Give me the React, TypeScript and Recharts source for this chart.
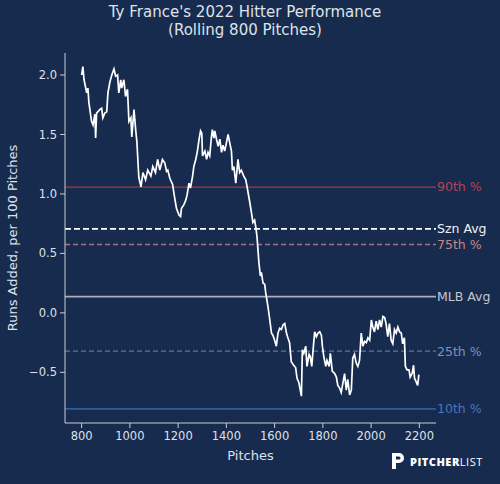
import { Line, LineChart, ReferenceLine, XAxis, YAxis } from 'recharts'

const PITCHES = [
  800, 805, 810, 821, 826, 830, 841, 847, 855, 858, 862, 876, 883, 888, 896, 904,
  909, 917, 925, 934, 941, 949, 954, 962, 966, 975, 982, 990, 996, 1004, 1008, 1017,
  1024, 1029, 1033, 1037, 1046, 1054, 1065, 1074, 1087, 1095, 1106, 1115, 1124, 1135,
  1145, 1152, 1157, 1166, 1177, 1187, 1193, 1204, 1210, 1214, 1224, 1232, 1237, 1245,
  1251, 1260, 1265, 1273, 1279, 1287, 1293, 1298, 1301, 1311, 1318, 1324, 1331, 1338,
  1342, 1348, 1352, 1359, 1366, 1373, 1380, 1386, 1393, 1400, 1407, 1414, 1421, 1425,
  1431, 1439, 1448, 1455, 1462, 1472, 1480, 1486, 1490, 1497, 1504, 1510, 1517, 1522,
  1527, 1531, 1535, 1541, 1545, 1552, 1559, 1563, 1568, 1574, 1580, 1587, 1593, 1600,
  1607, 1614, 1621, 1628, 1635, 1642, 1649, 1655, 1662, 1669, 1679, 1687, 1693, 1701,
  1711, 1715, 1721, 1729, 1734, 1743, 1748, 1754, 1762, 1766, 1773, 1780, 1787, 1794,
  1798, 1804, 1812, 1817, 1826, 1831, 1839, 1849, 1856, 1862, 1869, 1876, 1883, 1890,
  1897, 1903, 1911, 1918, 1924, 1931, 1938, 1945, 1952, 1959, 1966, 1973, 1980, 1987,
  1994, 2001, 2007, 2014, 2021, 2028, 2035, 2042, 2049, 2056, 2062, 2069, 2076, 2083,
  2090, 2097, 2104, 2111, 2118, 2125, 2131, 2138, 2142, 2149, 2157, 2162, 2170, 2176,
  2180, 2187, 2193, 2198
]

const RUNS_ADDED = [
  2.0, 2.07, 1.96, 1.85, 1.89, 1.77, 1.61, 1.58, 1.67, 1.47, 1.68, 1.71, 1.72, 1.64, 1.68, 1.69,
  1.85, 1.94, 2.0, 2.05, 1.99, 2.0, 1.85, 1.96, 1.89, 1.96, 1.82, 1.88, 1.61, 1.64, 1.48, 1.71,
  1.54, 1.44, 1.29, 1.14, 1.06, 1.18, 1.12, 1.2, 1.15, 1.23, 1.18, 1.29, 1.2, 1.29,
  1.26, 1.19, 1.2, 1.13, 1.08, 0.95, 0.88, 0.82, 0.81, 0.88, 0.91, 0.95, 0.99, 1.09,
  1.05, 1.15, 1.23, 1.29, 1.35, 1.46, 1.53, 1.51, 1.32, 1.36, 1.29, 1.35, 1.32, 1.48,
  1.54, 1.47, 1.53, 1.46, 1.4, 1.46, 1.35, 1.41, 1.36, 1.43, 1.5, 1.43, 1.36, 1.2,
  1.23, 1.09, 1.29, 1.18, 1.2, 1.15, 1.12, 1.06, 1.01, 0.93, 0.84, 0.76, 0.78, 0.72,
  0.64, 0.53, 0.42, 0.31, 0.34, 0.25, 0.24, 0.17, 0.11, 0.03, -0.06, -0.17, -0.19, -0.23,
  -0.28, -0.17, -0.13, -0.14, -0.1, -0.09, -0.17, -0.21, -0.25, -0.41, -0.44, -0.46, -0.55, -0.59,
  -0.7, -0.31, -0.34, -0.28, -0.45, -0.35, -0.37, -0.45, -0.25, -0.16, -0.2, -0.17, -0.16, -0.19,
  -0.28, -0.37, -0.45, -0.4, -0.45, -0.34, -0.49, -0.51, -0.54, -0.61, -0.63, -0.67, -0.59, -0.51,
  -0.65, -0.56, -0.69, -0.65, -0.38, -0.35, -0.42, -0.45, -0.4, -0.17, -0.28, -0.24, -0.25, -0.21,
  -0.23, -0.06, -0.12, -0.16, -0.07, -0.14, -0.06, -0.12, -0.03, -0.04, -0.09, -0.2, -0.09, -0.23,
  -0.26, -0.14, -0.17, -0.12, -0.16, -0.17, -0.26, -0.21, -0.45, -0.48, -0.48, -0.54, -0.51, -0.44,
  -0.55, -0.58, -0.61, -0.52
]

const X_TICKS = [800, 1000, 1200, 1400, 1600, 1800, 2000, 2200]
const Y_TICKS = [-0.5, 0, 0.5, 1, 1.5, 2]

const LEVEL_NAMES = ['90th %', 'Szn Avg', '75th %', 'MLB Avg', '25th %', '10th %']
const LEVEL_VALUES = [1.058, 0.707, 0.575, 0.137, -0.322, -0.808]

const LEVEL_STYLES = [
  { stroke: '#a33a4c', label: '#b8424f', dash: undefined, width: 1.3 },
  { stroke: '#ffffff', label: '#f2f2f2', dash: '6 3', width: 1.8 },
  { stroke: '#a8707a', label: '#c98585', dash: '5 3', width: 1.3 },
  { stroke: '#a9aebb', label: '#c4c7cf', dash: undefined, width: 1.8 },
  { stroke: '#63779c', label: '#7d92b6', dash: '5 3', width: 1.3 },
  { stroke: '#2f5d9c', label: '#4877b8', dash: undefined, width: 1.8 }
]

const BG = '#172b4f'
const AXIS = '#c9cdd6'
const TEXT = '#dfe2e8'
const FONT = '"DejaVu Sans", sans-serif'

export default function App () {
  const data = PITCHES.map((p, i) => ({ pitch: p, runs: RUNS_ADDED[i] }))

  return (
    <div
      style={{
        position: 'absolute',
        left: 0,
        top: 0,
        width: 500,
        height: 484,
        background: BG,
        fontFamily: FONT,
        overflow: 'hidden'
      }}
    >
      <div
        style={{
          position: 'absolute',
          top: 3,
          left: 0,
          width: 490,
          textAlign: 'center',
          color: TEXT,
          fontSize: 15,
          lineHeight: '18px'
        }}
      >
        Ty France's 2022 Hitter Performance
        <br />
        (Rolling 800 Pitches)
      </div>

      <LineChart
        width={500}
        height={484}
        data={data}
        margin={{ top: 53, right: 64, bottom: 31, left: 15 }}
        style={{ position: 'absolute', left: 0, top: 0 }}
      >
        <XAxis
          dataKey='pitch'
          type='number'
          domain={[731, 2269]}
          ticks={X_TICKS}
          allowDataOverflow
          height={30}
          stroke={AXIS}
          tickSize={5}
          tick={{ fill: TEXT, fontSize: 11.5, fontFamily: FONT }}
          tickMargin={4}
          label={{
            value: 'Pitches',
            position: 'insideBottom',
            offset: -7,
            fill: TEXT,
            fontSize: 13,
            fontFamily: FONT
          }}
        />
        <YAxis
          type='number'
          domain={[-0.926, 2.185]}
          ticks={Y_TICKS}
          allowDataOverflow
          width={50}
          stroke={AXIS}
          tickSize={5}
          tickMargin={3}
          tick={{ fill: TEXT, fontSize: 11.5, fontFamily: FONT }}
          tickFormatter={(v: number) => v.toFixed(1).replace('-', '\u2212')}
          label={{
            value: 'Runs Added, per 100 Pitches',
            angle: -90,
            position: 'insideLeft',
            offset: -3,
            fill: TEXT,
            fontSize: 13,
            fontFamily: FONT,
            style: { textAnchor: 'middle' }
          }}
        />
        {LEVEL_NAMES.map((name, i) => (
          <ReferenceLine
            key={name}
            y={LEVEL_VALUES[i]}
            stroke={LEVEL_STYLES[i].stroke}
            strokeWidth={LEVEL_STYLES[i].width}
            strokeDasharray={LEVEL_STYLES[i].dash}
            label={{
              value: name,
              position: 'right',
              offset: 1,
              fill: LEVEL_STYLES[i].label,
              fontSize: 12.5,
              fontFamily: FONT
            }}
          />
        ))}
        <Line
          dataKey='runs'
          type='linear'
          stroke='#ffffff'
          strokeWidth={1.7}
          dot={false}
          isAnimationActive={false}
        />
      </LineChart>

      <div
        style={{
          position: 'absolute',
          left: 391,
          top: 452,
          display: 'flex',
          alignItems: 'center',
          gap: 5
        }}
      >
        <svg width={14} height={18} viewBox='0 0 14 18'>
          <path
            d='M1 1 H8 A5 5 0 0 1 8 11 H5 V17 H1 Z M5 4.5 V7.5 H8 A1.5 1.5 0 0 0 8 4.5 Z'
            fill='#ffffff'
            fillRule='evenodd'
          />
        </svg>
        <span style={{ color: '#ffffff', fontSize: 11, letterSpacing: 0.5, fontFamily: '"Open Sans", sans-serif' }}>
          <b style={{ fontWeight: 800 }}>PITCHER</b>
          <span style={{ fontWeight: 400 }}>LIST</span>
        </span>
      </div>
    </div>
  )
}
